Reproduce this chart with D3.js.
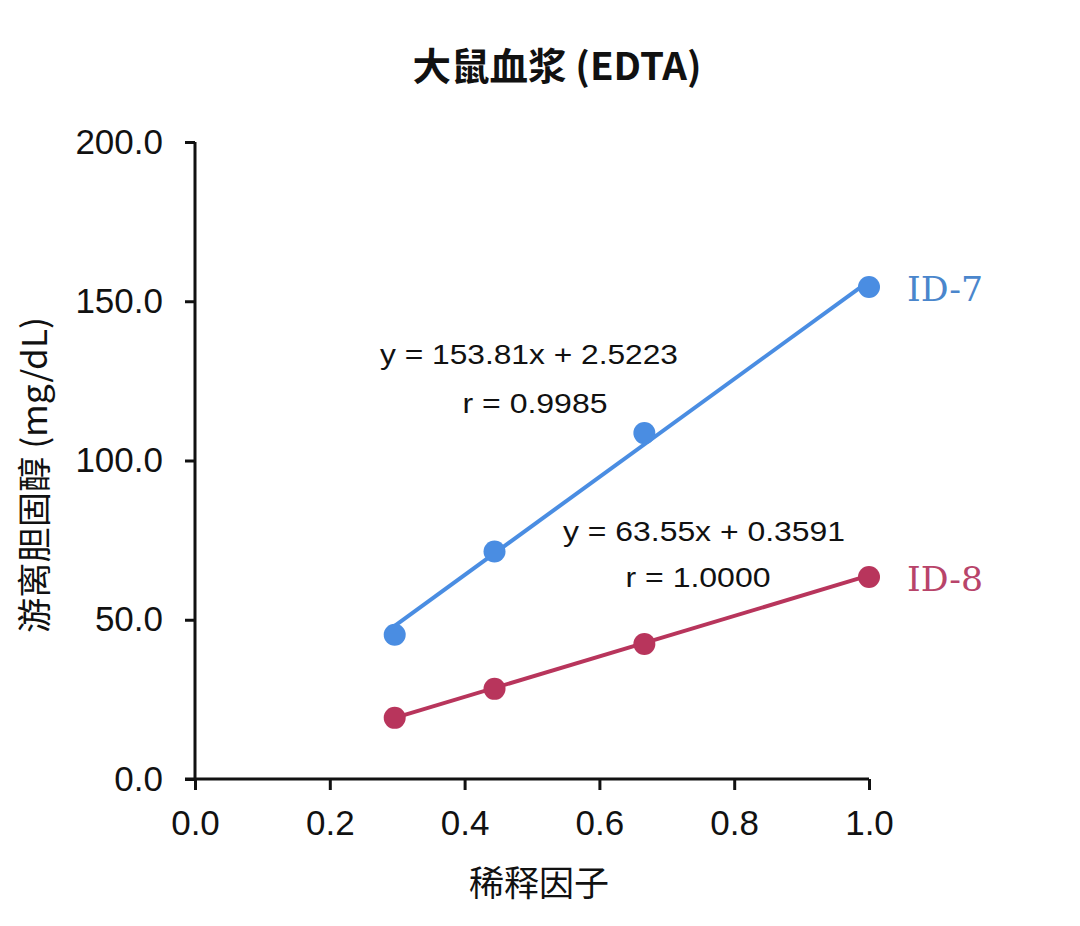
<!DOCTYPE html>
<html>
<head>
<meta charset="utf-8">
<script src="https://cdn.jsdelivr.net/npm/d3@7"></script>
<style>
  html, body { margin: 0; padding: 0; background: #fff; }
  svg { display: block; }
</style>
</head>
<body>
<svg id="chart" width="1080" height="926"></svg>
<script>
// ---- data ----
const dilution = [0.2963, 0.4444, 0.6667, 1.0];
const id7Values = [45.3, 71.4, 108.6, 154.5];
const id8Values = [19.2, 28.3, 42.4, 63.4];
const seriesNames = ["ID-7", "ID-8"];
const slopes = [153.81, 63.55];
const intercepts = [2.5223, 0.3591];
const equationLabels = ["y = 153.81x + 2.5223", "y = 63.55x + 0.3591"];
const rLabels = ["r = 0.9985", "r = 1.0000"];
const xTicks = [0, 0.2, 0.4, 0.6, 0.8, 1.0];
const yTicks = [0, 50, 100, 150, 200];
const title = "大鼠血浆 (EDTA)";
const xTitle = "稀释因子";
const yTitle = "游离胆固醇 (mg/dL)";

const colors = ["#4a8de2", "#b8355c"];
const labelColors = ["#4a86cc", "#b8446a"];

const svg = d3.select("#chart");
const x = d3.scaleLinear().domain([0, 1]).range([195, 869]);
const y = d3.scaleLinear().domain([0, 200]).range([779, 142]);

const sansFont = "'Liberation Sans', Arial, sans-serif";
const cjkFont = "'Noto Sans CJK SC', 'Noto Sans', sans-serif";

// title
svg.append("text")
  .attr("x", 557).attr("y", 80)
  .attr("text-anchor", "middle")
  .attr("font-family", cjkFont)
  .attr("font-weight", "bold")
  .attr("font-size", 38)
  .attr("fill", "#111")
  .attr("textLength", 289)
  .attr("lengthAdjust", "spacingAndGlyphs")
  .text(title);

// axes
const yAxis = d3.axisLeft(y).tickValues(yTicks).tickFormat(d3.format(".1f")).tickSize(10).tickPadding(22);
const xAxis = d3.axisBottom(x).tickValues(xTicks).tickFormat(d3.format(".1f")).tickSize(11).tickPadding(20);

const gy = svg.append("g").attr("transform", `translate(${x(0)},0)`).call(yAxis);
const gx = svg.append("g").attr("transform", `translate(0,${y(0)})`).call(xAxis);

[gx, gy].forEach(g => {
  g.select(".domain").attr("stroke", "#111").attr("stroke-width", 3);
  g.selectAll(".tick line").attr("stroke", "#111").attr("stroke-width", 3);
  g.selectAll(".tick text")
    .attr("font-family", sansFont)
    .attr("font-size", 35)
    .attr("fill", "#111");
});
gy.select(".domain").attr("d", `M0,${y(200)}V${y(0)}`);
gx.select(".domain").attr("d", `M${x(0) - 10},0H${x(1)}`);

// axis titles
svg.append("text")
  .attr("x", 539).attr("y", 896)
  .attr("text-anchor", "middle")
  .attr("font-family", cjkFont)
  .attr("font-size", 35)
  .attr("fill", "#111")
  .text(xTitle);

svg.append("text")
  .attr("transform", "translate(47,475) rotate(-90)")
  .attr("text-anchor", "middle")
  .attr("font-family", cjkFont)
  .attr("font-size", 34)
  .attr("fill", "#111")
  .attr("textLength", 316)
  .attr("lengthAdjust", "spacingAndGlyphs")
  .text(yTitle);

// series
const allValues = [id7Values, id8Values];
const xExtent = d3.extent(dilution);

allValues.forEach((vals, i) => {
  svg.append("line")
    .attr("x1", x(xExtent[0])).attr("y1", y(slopes[i] * xExtent[0] + intercepts[i]))
    .attr("x2", x(xExtent[1])).attr("y2", y(slopes[i] * xExtent[1] + intercepts[i]))
    .attr("stroke", colors[i])
    .attr("stroke-width", 4);

  svg.append("g").selectAll("circle")
    .data(dilution.map((d, j) => [d, vals[j]]))
    .join("circle")
    .attr("cx", d => x(d[0]))
    .attr("cy", d => y(d[1]))
    .attr("r", 11)
    .attr("fill", colors[i]);

  svg.append("text")
    .attr("x", x(1) + 38)
    .attr("y", y(vals[vals.length - 1]) + 14)
    .attr("font-family", "'DejaVu Serif', serif")
    .attr("font-size", 34)
    .attr("fill", labelColors[i])
    .attr("textLength", 76)
    .attr("lengthAdjust", "spacingAndGlyphs")
    .text(seriesNames[i]);
});

// equations
const eqPos = [
  { cx: 529, y1: 364, y2: 413, w1: 298, w2: 145 },
  { cx: 704, y1: 541, y2: 587, w1: 282, w2: 145 }
];
eqPos.forEach((p, i) => {
  svg.append("text")
    .attr("x", p.cx - p.w1 / 2).attr("y", p.y1)
    .attr("font-family", sansFont)
    .attr("font-size", 27)
    .attr("fill", "#111")
    .attr("textLength", p.w1)
    .attr("lengthAdjust", "spacingAndGlyphs")
    .text(equationLabels[i]);
  svg.append("text")
    .attr("x", p.cx - p.w2 / 2 + (i === 0 ? 6 : -6)).attr("y", p.y2)
    .attr("font-family", sansFont)
    .attr("font-size", 27)
    .attr("fill", "#111")
    .attr("textLength", p.w2)
    .attr("lengthAdjust", "spacingAndGlyphs")
    .text(rLabels[i]);
});
</script>
</body>
</html>
